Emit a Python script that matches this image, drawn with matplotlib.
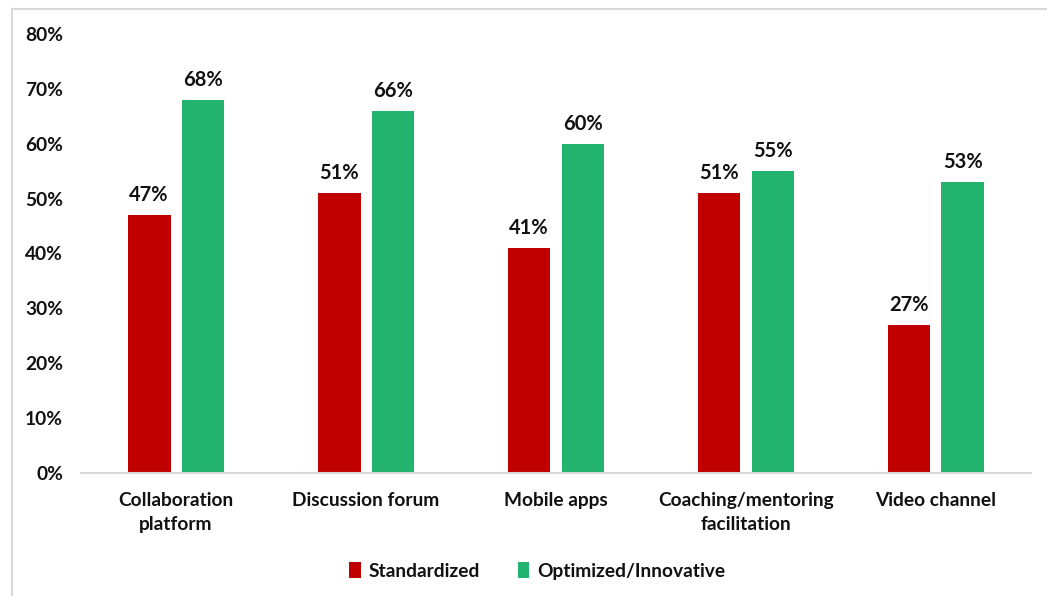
import numpy as np
import matplotlib.pyplot as plt
from matplotlib.lines import Line2D

categories = ['Collaboration\nplatform', 'Discussion forum', 'Mobile apps',
              'Coaching/mentoring\nfacilitation', 'Video channel']
standardized = [47, 51, 41, 51, 27]
optimized = [68, 66, 60, 55, 53]
series_names = ['Standardized', 'Optimized/Innovative']
colors = ['#C00000', '#22B36E']

plt.rcParams['font.family'] = ['Lato', 'DejaVu Sans']
plt.rcParams['font.weight'] = 'bold'

fig = plt.figure(figsize=(10.47, 5.96), dpi=100)
ax = fig.add_axes([0.0774, 0.2064, 0.9073, 0.7366])

x = np.arange(len(categories))
w = 0.226
off = 0.142
b1 = ax.bar(x - off, standardized, w, color=colors[0], label=series_names[0])
b2 = ax.bar(x + off, optimized, w, color=colors[1], label=series_names[1])

for bars in (b1, b2):
    for b in bars:
        ax.annotate('{}%'.format(int(b.get_height())),
                    (b.get_x() + b.get_width() / 2, b.get_height()),
                    xytext=(0, 7), textcoords='offset points',
                    ha='center', va='bottom', fontsize=14.5, fontweight='bold',
                    color='#111111')

ax.set_xlim(-0.5, len(categories) - 0.5)
ax.set_ylim(0, 80)
ax.set_yticks(range(0, 81, 10))
ax.set_yticklabels(['{}%'.format(v) for v in range(0, 81, 10)])
ax.set_xticks(x)
ax.set_xticklabels(categories, linespacing=1.45)
ax.tick_params(axis='both', length=0, labelsize=13.8, colors='#111111')
ax.tick_params(axis='y', pad=13)
ax.tick_params(axis='x', pad=14)
for lbl in ax.get_xticklabels() + ax.get_yticklabels():
    lbl.set_fontweight('bold')

for s in ['top', 'right', 'left']:
    ax.spines[s].set_visible(False)
ax.spines['bottom'].set_color('#D9D9D9')
ax.spines['bottom'].set_linewidth(1.5)

leg = fig.legend(loc='center', bbox_to_anchor=(0.513, 0.042), ncol=2,
                 frameon=False, fontsize=13.8, handlelength=0.6, handleheight=0.9,
                 handletextpad=0.4, columnspacing=2.0)
for t in leg.get_texts():
    t.set_fontweight('bold')
    t.set_color('#111111')

# light outer frame
fig.add_artist(Line2D([12 / 1047, 12 / 1047], [0, 1 - 9 / 596],
                      transform=fig.transFigure, color='#D9D9D9', lw=1.5))
fig.add_artist(Line2D([12 / 1047, 1], [1 - 9 / 596, 1 - 9 / 596],
                      transform=fig.transFigure, color='#D9D9D9', lw=1.5))

fig.savefig('out.png', dpi=100)
